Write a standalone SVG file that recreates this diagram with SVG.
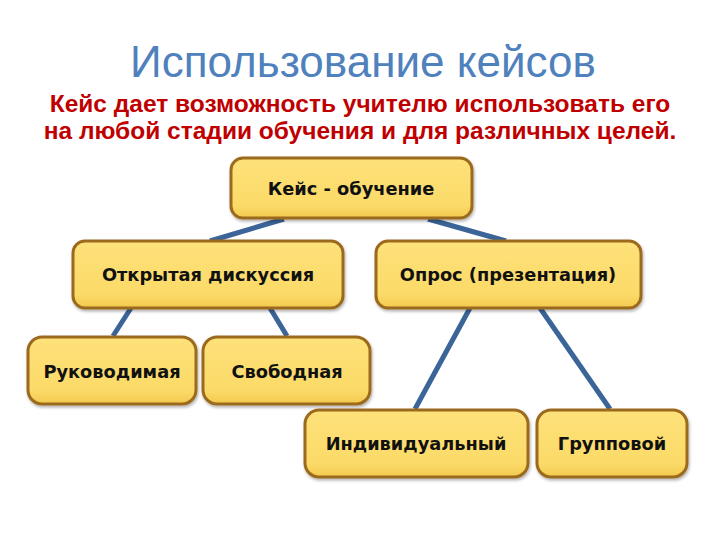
<svg xmlns="http://www.w3.org/2000/svg" width="720" height="540" viewBox="0 0 720 540">
<defs>
<linearGradient id="g" x1="0" y1="0" x2="0" y2="1">
<stop offset="0" stop-color="#FDE17A"/>
<stop offset="0.8" stop-color="#FBDA68"/>
<stop offset="1" stop-color="#F2C94E"/>
</linearGradient>
<filter id="sh" x="-10%" y="-10%" width="120%" height="130%">
<feDropShadow dx="1" dy="2" stdDeviation="1.5" flood-color="#000" flood-opacity="0.3"/>
</filter>
</defs>
<style>
.box{fill:url(#g);stroke:#9C6A1E;stroke-width:3;filter:url(#sh)}
.lbl{font-family:"DejaVu Sans",Verdana,sans-serif;font-weight:bold;font-size:17.8px;fill:#111;text-anchor:middle}
.con line{stroke:#3B6498;stroke-width:5;stroke-linecap:butt}
.sub{font-family:"Liberation Sans",Arial,sans-serif;font-weight:bold;font-size:24.5px;fill:#C00000;text-anchor:middle}
</style>
<rect width="720" height="540" fill="#fff"/>
<text x="363" y="77" font-family="Liberation Sans, Arial, sans-serif" font-size="44" fill="#4F81BD" text-anchor="middle">Использование кейсов</text>
<text class="sub" x="360" y="112">Кейс дает возможность учителю использовать его</text>
<text class="sub" x="360" y="139">на любой стадии обучения и для различных целей.</text>
<g id="connectors" class="con">
<line x1="284" y1="219" x2="210" y2="241"/>
<line x1="428" y1="219" x2="506" y2="241"/>
<line x1="131" y1="308" x2="113" y2="336"/>
<line x1="270" y1="308" x2="287" y2="336"/>
<line x1="470" y1="308" x2="415" y2="409"/>
<line x1="540" y1="308" x2="610" y2="409"/>
</g>
<g id="n-root"><rect class="box" x="231" y="158" width="241" height="60" rx="12"/><text class="lbl" x="351" y="195">Кейс - обучение</text></g>
<g id="n-open"><rect class="box" x="73" y="241" width="270" height="67" rx="12"/><text class="lbl" x="208" y="281">Открытая дискуссия</text></g>
<g id="n-survey"><rect class="box" x="376" y="241" width="265" height="67" rx="12"/><text class="lbl" x="508" y="281">Опрос (презентация)</text></g>
<g id="n-guided"><rect class="box" x="28" y="337" width="168" height="67" rx="14"/><text class="lbl" x="112" y="378">Руководимая</text></g>
<g id="n-free"><rect class="box" x="203" y="337" width="167" height="67" rx="14"/><text class="lbl" x="287" y="378">Свободная</text></g>
<g id="n-indiv"><rect class="box" x="305" y="410" width="223" height="67" rx="14"/><text class="lbl" x="416" y="450">Индивидуальный</text></g>
<g id="n-group"><rect class="box" x="537" y="410" width="150" height="67" rx="14"/><text class="lbl" x="612" y="450">Групповой</text></g>
</svg>
